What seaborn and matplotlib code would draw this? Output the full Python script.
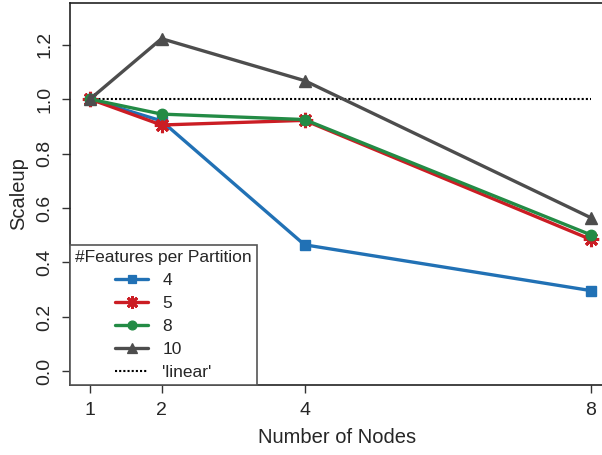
import pandas as pd
import seaborn as sns
import matplotlib.pyplot as plt
from matplotlib.lines import Line2D

nodes = [1, 2, 4, 8]
features = ["4", "5", "8", "10"]
scaleup_4 = [1.0, 0.92, 0.465, 0.297]
scaleup_5 = [1.0, 0.905, 0.922, 0.485]
scaleup_8 = [1.0, 0.945, 0.925, 0.502]
scaleup_10 = [1.0, 1.222, 1.068, 0.565]
linear = [1.0, 1.0, 1.0, 1.0]
yticks = [0.0, 0.2, 0.4, 0.6, 0.8, 1.0, 1.2]

colors = {"4": "#2171b5", "5": "#cb1d24", "8": "#238b45", "10": "#4d4d4d"}
markers = {"4": "s", "5": (8, 2, 0), "8": "o", "10": "^"}
msizes = {"4": 6.5, "5": 11, "8": 7.5, "10": 8}
medges = {"4": 1.0, "5": 2.2, "8": 1.0, "10": 1.0}


def build_frame():
    rows = []
    for f, vals in zip(features, [scaleup_4, scaleup_5, scaleup_8, scaleup_10]):
        for n, v in zip(nodes, vals):
            rows.append({"nodes": n, "scaleup": v, "features": f})
    return pd.DataFrame(rows)


def main():
    sns.set_style("ticks")
    plt.rcParams["font.family"] = ["Liberation Sans", "DejaVu Sans"]

    df = build_frame()
    fig = plt.figure(figsize=(6.02, 4.55), dpi=100)
    ax = fig.add_axes([0.1163, 0.1538, 0.886, 0.8396])

    # one call per series: seaborn won't mix filled and line-art markers
    for f in features:
        sub = df[df["features"] == f]
        sns.lineplot(data=sub, x="nodes", y="scaleup", color=colors[f],
                     marker=markers[f], linewidth=2.4, markersize=msizes[f],
                     markeredgewidth=medges[f], markeredgecolor=colors[f], ax=ax,
                     zorder=3)
    ax.plot(nodes, linear, color="black", linestyle=(0, (1, 1)), linewidth=1.5, zorder=1)

    ax.set_xlim(0.72, 8.18)
    ax.set_ylim(-0.05, 1.353)
    ax.set_xticks(nodes)
    ax.set_xticklabels([str(n) for n in nodes])
    ax.set_yticks(yticks)
    ax.set_yticklabels([f"{t:.1f}" for t in yticks], rotation=90, va="center")
    ax.tick_params(axis="both", labelsize=14, length=6, width=1, color="#333333", pad=6)
    ax.set_xlabel("Number of Nodes", fontsize=14.5, labelpad=7)
    ax.set_ylabel("Scaleup", fontsize=14.5, labelpad=6)
    for s in ax.spines.values():
        s.set_color("#222222")
        s.set_linewidth(1.2)

    handles = []
    for f in features:
        handles.append(Line2D([], [], color=colors[f], marker=markers[f], linewidth=2.4,
                              markersize=msizes[f] * 0.85, markeredgewidth=medges[f] * 0.9,
                              markeredgecolor=colors[f], label=f))
    handles.append(Line2D([], [], color="black", linestyle=(0, (1, 1)), linewidth=1.5,
                          label="'linear'"))
    leg = ax.legend(handles=handles, title="#Features per Partition", loc="lower left",
                    bbox_to_anchor=(0, 0), borderaxespad=0, fontsize=12.5,
                    title_fontsize=12.5, fancybox=False, framealpha=1,
                    handlelength=1.9, labelspacing=0.45, borderpad=0.3, handletextpad=0.8)
    leg.get_frame().set_edgecolor("#555555")
    leg.get_frame().set_linewidth(1.2)

    fig.savefig("out.png", dpi=100)


if __name__ == "__main__":
    main()
